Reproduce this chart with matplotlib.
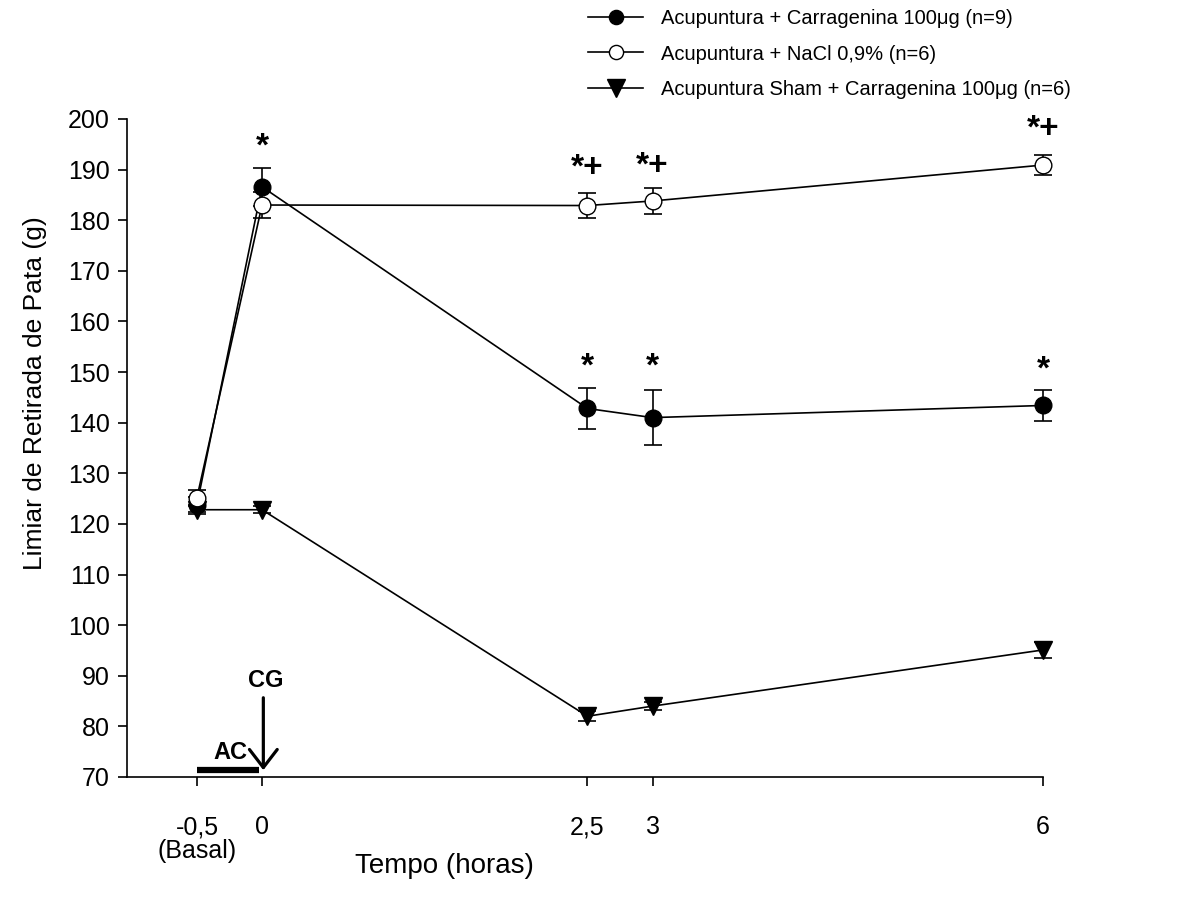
import matplotlib.pyplot as plt
from matplotlib.lines import Line2D

plt.rcParams['font.family'] = ['Liberation Sans', 'DejaVu Sans']

tempo = [-0.5, 0, 2.5, 3, 6]
tick_labels = ['-0,5\n(Basal)', '0', '2,5', '3', '6']

carr = [123.8, 186.6, 142.8, 141.0, 143.4]
carr_err = [1.5, 3.7, 4.1, 5.5, 3.1]
nacl = [125.2, 183.0, 182.9, 183.8, 190.9]
nacl_err = [1.5, 2.6, 2.5, 2.6, 2.0]
sham = [122.8, 122.8, 82.0, 84.0, 95.1]
sham_err = [0.8, 0.7, 1.0, 0.8, 1.5]

labels = ['Acupuntura + Carragenina 100\u03bcg (n=9)',
          'Acupuntura + NaCl 0,9% (n=6)',
          'Acupuntura Sham + Carragenina 100\u03bcg (n=6)']

# significance marks: (x, y baseline, text)
sig_marks = [(0, 192.8, '*'),
             (2.5, 188.5, '*+'), (3, 188.9, '*+'), (6, 196.2, '*+'),
             (2.5, 149.3, '*'), (3, 149.3, '*'), (6, 148.7, '*')]

fig = plt.figure(figsize=(11.94, 9.02), dpi=100)
ax = fig.add_axes([0.1064, 0.1386, 0.7672, 0.7295])

kw = dict(color='black', lw=1.2, capsize=6.5, elinewidth=1.2, capthick=1.2)
series = [(carr, carr_err, 'o', 'black', 12, 3),
          (nacl, nacl_err, 'o', 'white', 12, 4),
          (sham, sham_err, 'v', 'black', 13, 3)]
handles = []
for (vals, err, mk, fc, ms, z), lab in zip(series, labels):
    c = ax.errorbar(tempo, vals, yerr=err, fmt='-' + mk, mfc=fc, mec='black', ms=ms, zorder=z, **kw)
    for a in c.get_children():
        a.set_clip_on(False)
    handles.append(Line2D([], [], color='black', lw=1.2, marker=mk, mfc=fc, mec='black',
                          ms=ms * (0.85 if mk == 'o' else 0.95), label=lab))

for x, y, t in sig_marks:
    ax.text(x, y, t, ha='center', va='baseline', fontsize=24, fontweight='bold')

# AC bar and CG arrow
ax.plot([-0.5, -0.02], [71.35, 71.35], color='black', lw=4.5, solid_capstyle='butt', clip_on=False)
ax.text(-0.246, 74.9, 'AC', ha='center', va='center', fontsize=17, fontweight='bold')
ax.annotate('', xy=(0.01, 70.8), xytext=(0.01, 86.2),
            arrowprops=dict(arrowstyle='->,head_length=1.3,head_width=1.0', lw=2.3, color='black'))
ax.text(0.03, 89.1, 'CG', ha='center', va='center', fontsize=17, fontweight='bold')

ax.set_xlim(-1.037, 6)
ax.set_ylim(70, 200)
ax.set_yticks(range(70, 201, 10))
ax.set_xticks(tempo)
ax.set_xticklabels(tick_labels, linespacing=1.0)
ax.spines['top'].set_visible(False)
ax.spines['right'].set_visible(False)
ax.tick_params(direction='out', length=6.5, width=1.2, labelsize=18)
ax.tick_params(axis='x', pad=21)
ax.tick_params(axis='y', pad=6)
for s in ['left', 'bottom']:
    ax.spines[s].set_linewidth(1.2)

ax.set_xlabel('Tempo (horas)', fontsize=20)
ax.xaxis.set_label_coords(0.347, -0.115)
ax.set_ylabel('Limiar de Retirada de Pata (g)', fontsize=19)
ax.yaxis.set_label_coords(-0.087, 0.584)

fig.legend(handles=handles, loc='upper left', bbox_to_anchor=(0.4925, 0.990),
           frameon=False, fontsize=14.5, handlelength=2.75, handletextpad=0.85,
           labelspacing=0.82, borderaxespad=0, borderpad=0)

fig.savefig('out.png', dpi=100)
